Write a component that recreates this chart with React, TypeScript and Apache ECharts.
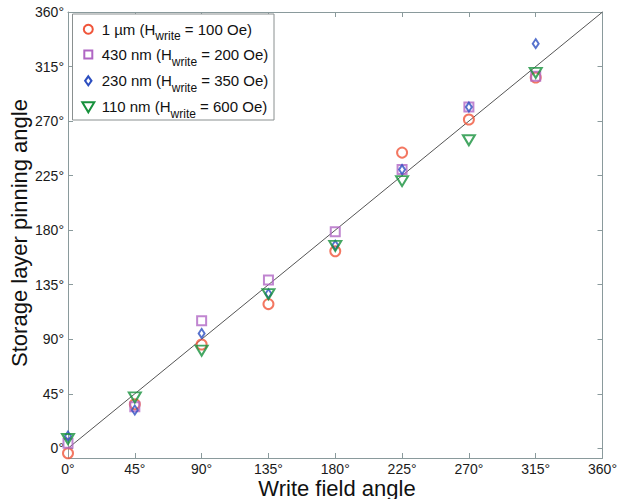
import { useEffect, useRef } from "react";
import * as echarts from "echarts";

const xTicks = [0, 45, 90, 135, 180, 225, 270, 315, 360];
const yTicks = [0, 45, 90, 135, 180, 225, 270, 315, 360];
const writeAngles = [0, 45, 90, 135, 180, 225, 270, 315];
const pin1um = [-4.1, 36.3, 85.7, 119, 162.6, 244, 271.3, 306];
const pin430nm = [4.1, 34.3, 105.2, 138.8, 178.6, 230, 281.6, 307];
const pin230nm = [10.1, 31.6, 94.8, 127.6, 167.6, 230, 281.6, 333.9];
const pin110nm = [7.7, 42, 80.6, 127.2, 167, 220.5, 254.2, 309.7];
const idealLine = [[0, 0], [360, 360]];

const seriesNames = ["1 µm", "430 nm", "230 nm", "110 nm"];
const seriesFields = ["100 Oe", "200 Oe", "350 Oe", "600 Oe"];
const colors = ["#f0553a", "#b066c4", "#2d4fc0", "#17913c"];

const FONT = "'Liberation Sans', Arial, Helvetica, sans-serif";
const AXIS_COLOR = "#8a9a9c";

export default function App() {
  const ref = useRef<HTMLDivElement>(null);
  useEffect(() => {
    if (!ref.current) return;
    const chart = echarts.init(ref.current, undefined, { renderer: "svg" });
    const pair = (ys: number[]) => writeAngles.map((x, i) => [x, ys[i]]);
    const hollow = (c: string) => ({ color: "rgba(255,255,255,0)", borderColor: c, borderWidth: 2 });

    const legendRows = [29.3, 54.5, 80.8, 106.7];
    const mx = 88.3;
    const legendGraphics: any[] = [
      {
        type: "rect",
        shape: { x: 72.5, y: 14, width: 201.5, height: 106 },
        style: { fill: "#fff", stroke: "#8a9090", lineWidth: 1 },
        z: 100,
      },
      { type: "circle", shape: { cx: mx, cy: legendRows[0], r: 4.5 }, style: { fill: "none", stroke: colors[0], lineWidth: 2 }, z: 101 },
      { type: "rect", shape: { x: mx - 4, y: legendRows[1] - 4, width: 8, height: 8 }, style: { fill: "none", stroke: colors[1], lineWidth: 2 }, z: 101 },
      {
        type: "polygon",
        shape: { points: [[mx, legendRows[2] - 4.5], [mx + 3.2, legendRows[2]], [mx, legendRows[2] + 4.5], [mx - 3.2, legendRows[2]]] },
        style: { fill: "none", stroke: colors[2], lineWidth: 2 },
        z: 101,
      },
      {
        type: "polygon",
        shape: { points: [[mx - 6, legendRows[3] - 4.5], [mx + 6, legendRows[3] - 4.5], [mx, legendRows[3] + 5.5]] },
        style: { fill: "none", stroke: colors[3], lineWidth: 2 },
        z: 101,
      },
    ];
    seriesNames.forEach((n, i) => {
      legendGraphics.push({
        type: "text",
        x: 101.7,
        y: legendRows[i],
        z: 101,
        style: {
          text: `{a|${n} (H}{s|write}{a| = ${seriesFields[i]})}`,
          verticalAlign: "middle",
          align: "left",
          fill: "#111",
          rich: {
            a: { fontSize: 15, fontFamily: FONT, fill: "#111" },
            s: { fontSize: 12, fontFamily: FONT, fill: "#111", padding: [14, 0, 0, 0] },
          },
        },
      });
    });

    const xAxisBase = {
      type: "value" as const,
      min: 0,
      max: 360,
      interval: 45,
      splitLine: { show: false },
      axisLine: { show: true, onZero: false, lineStyle: { color: AXIS_COLOR, width: 1 } },
      axisTick: { show: true, inside: true, length: 5, lineStyle: { color: AXIS_COLOR } },
    };
    const yAxisBase = {
      type: "value" as const,
      min: -8,
      max: 360,
      splitLine: { show: false },
      axisLine: { show: true, onZero: false, lineStyle: { color: AXIS_COLOR, width: 1 } },
      axisTick: { show: true, inside: true, length: 5, customValues: yTicks, lineStyle: { color: AXIS_COLOR } },
    };

    chart.setOption({
      animation: false,
      backgroundColor: "#fff",
      grid: { left: 68, right: 17, top: 12, bottom: 41, containLabel: false },
      xAxis: [
        {
          ...xAxisBase,
          position: "bottom",
          axisLabel: {
            show: true,
            margin: 4,
            fontSize: 14,
            fontFamily: FONT,
            color: "#1a1a1a",
            formatter: (v: number) => (xTicks.includes(v) ? `${v}°` : ""),
          },
        },
        { ...xAxisBase, position: "top", axisLabel: { show: false } },
      ],
      yAxis: [
        {
          ...yAxisBase,
          position: "left",
          axisLabel: {
            show: true,
            margin: 4,
            fontSize: 14,
            fontFamily: FONT,
            color: "#1a1a1a",
            customValues: yTicks,
            formatter: (v: number) => `${v}°`,
          },
        },
        { ...yAxisBase, position: "right", axisLabel: { show: false } },
      ],
      series: [
        {
          type: "line",
          data: idealLine,
          symbol: "none",
          lineStyle: { color: "#555", width: 1 },
          silent: true,
          z: 1,
        },
        {
          name: seriesNames[0],
          type: "scatter",
          data: pair(pin1um),
          symbol: "circle",
          symbolSize: 10,
          itemStyle: hollow(colors[0]),
          z: 2,
        },
        {
          name: seriesNames[1],
          type: "scatter",
          data: pair(pin430nm),
          symbol: "rect",
          symbolSize: 9,
          itemStyle: hollow(colors[1]),
          z: 3,
        },
        {
          name: seriesNames[2],
          type: "scatter",
          data: pair(pin230nm),
          symbol: "diamond",
          symbolSize: [6, 9],
          itemStyle: hollow(colors[2]),
          z: 4,
        },
        {
          name: seriesNames[3],
          type: "scatter",
          data: pair(pin110nm),
          symbol: "triangle",
          symbolRotate: 180,
          symbolSize: [12, 10],
          itemStyle: hollow(colors[3]),
          z: 5,
        },
      ],
      graphic: [
        ...legendGraphics,
        {
          type: "text",
          x: 337,
          y: 488,
          style: { text: "Write field angle", fontSize: 22, fontFamily: FONT, fill: "#111", align: "center", verticalAlign: "middle" },
        },
        {
          type: "text",
          x: 19,
          y: 233,
          rotation: Math.PI / 2,
          style: { text: "Storage layer pinning angle", fontSize: 22, fontFamily: FONT, fill: "#111", align: "center", verticalAlign: "middle" },
        },
      ],
    });
    return () => chart.dispose();
  }, []);
  return <div ref={ref} style={{ width: 620, height: 499, position: "absolute", left: 0, top: 0 }} />;
}
